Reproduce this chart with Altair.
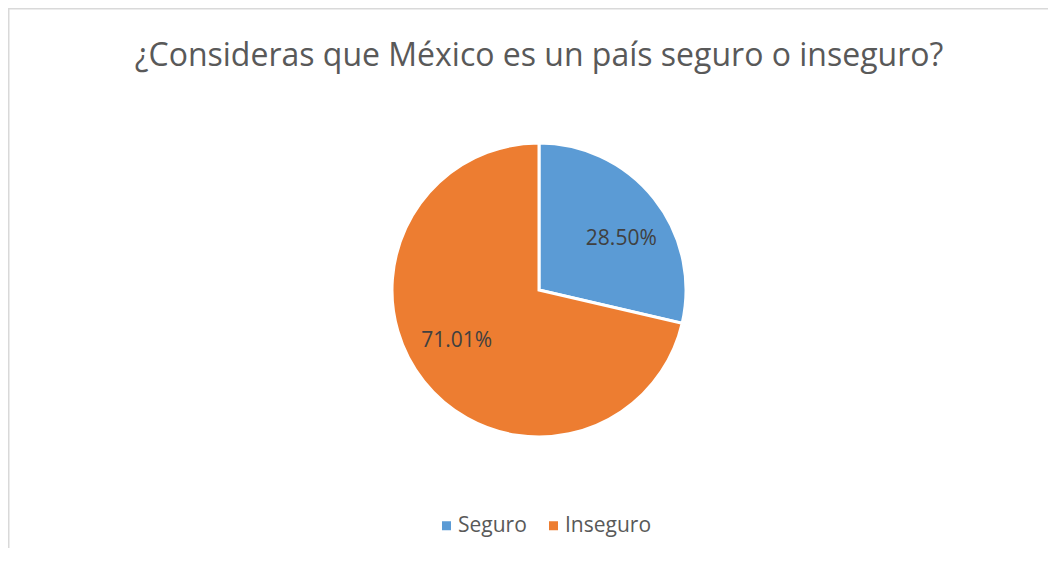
import altair as alt
import pandas as pd
import math

categories = ["Seguro", "Inseguro"]
values = [28.50, 71.01]
labels = ["28.50%", "71.01%"]
order = [1, 2]
colors = ["#5B9BD5", "#ED7D31"]
title_text = ["¿Consideras que México es un país seguro o inseguro?"]

df = pd.DataFrame({"categoria": categories, "valor": values, "etiqueta": labels, "orden": order})

W, H = 1040, 540
CX, CY = 531, 282
R = 147
FONT = "Open Sans"

base = alt.Chart(df).encode(
    theta=alt.Theta("valor:Q", stack=True),
    order=alt.Order("orden:Q"),
)

pie = base.mark_arc(radius=R, stroke="white", strokeWidth=3, x=CX, y=CY).encode(
    color=alt.Color(
        "categoria:N",
        scale=alt.Scale(domain=categories, range=colors),
        legend=alt.Legend(
            title=None, orient="none", legendX=428, legendY=507, direction="horizontal",
            symbolType="square", symbolSize=81, symbolStrokeWidth=0,
            labelFontSize=21, labelFont=FONT, labelColor="#595959",
            columnPadding=16, labelOffset=1,
        ),
    )
)

labels_layer = base.mark_text(
    radius=97, thetaOffset=math.radians(6.5), x=CX, y=CY,
    font=FONT, fontSize=21, color="#404040"
).encode(text="etiqueta:N")

title = alt.Chart(pd.DataFrame({"t": title_text})).mark_text(
    font=FONT, fontSize=32, color="#595959", baseline="alphabetic", align="center"
).encode(text="t:N", x=alt.value(CX), y=alt.value(58))

border_df = pd.DataFrame({"a": [0]})
left = alt.Chart(border_df).mark_rule(color="#D9D9D9", strokeWidth=1.5).encode(
    x=alt.value(0.75), y=alt.value(0), y2=alt.value(H)
)
top = alt.Chart(border_df).mark_rule(color="#D9D9D9", strokeWidth=1.5).encode(
    y=alt.value(0.75), x=alt.value(0), x2=alt.value(W)
)

chart = alt.layer(left, top, pie, labels_layer, title).properties(
    width=W, height=H, padding=0, autosize="none"
).configure_view(stroke=None)

chart.save("out.html", embed_options={"renderer": "svg", "actions": False})
